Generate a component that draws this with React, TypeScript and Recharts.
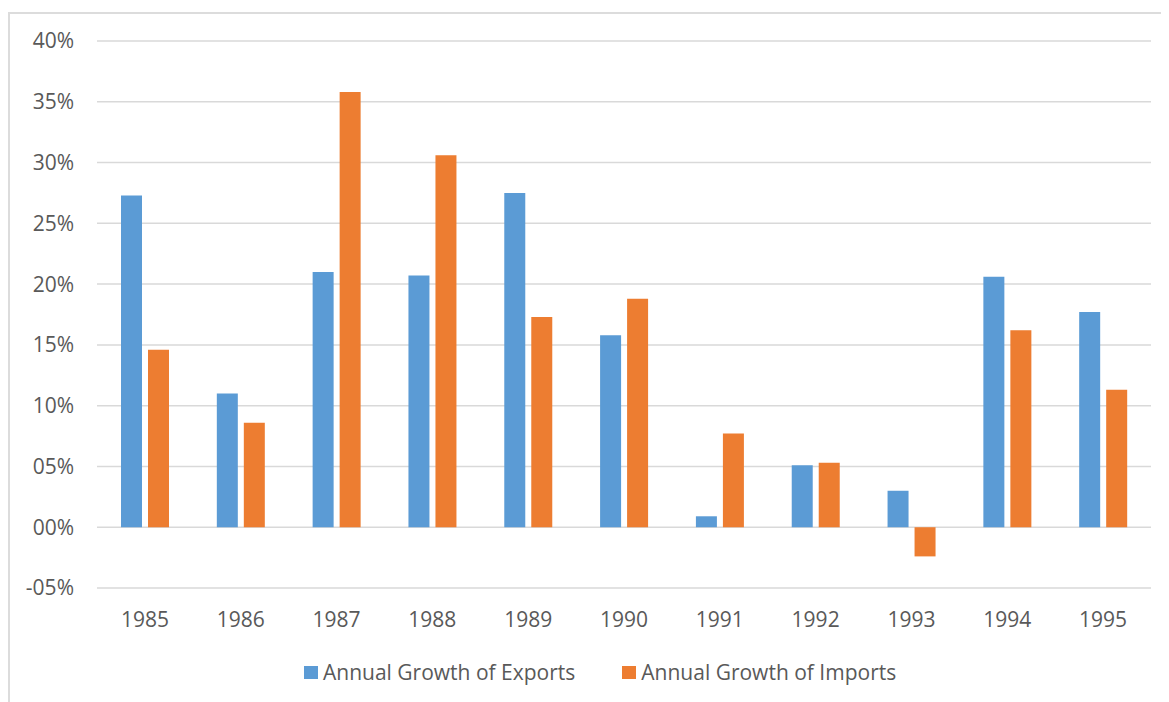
import React from 'react';
import { Bar, BarChart, CartesianGrid, Legend, XAxis, YAxis } from 'recharts';

const years = ['1985', '1986', '1987', '1988', '1989', '1990', '1991', '1992', '1993', '1994', '1995'];
const exportsGrowth = [27.3, 11.0, 21.0, 20.7, 27.5, 15.8, 0.9, 5.1, 3.0, 20.6, 17.7];
const importsGrowth = [14.6, 8.6, 35.8, 30.6, 17.3, 18.8, 7.7, 5.3, -2.4, 16.2, 11.3];
const yTicks = [-5, 0, 5, 10, 15, 20, 25, 30, 35, 40];

const SERIES = [
  { key: 'exports', name: 'Annual Growth of Exports', color: '#5B9BD5' },
  { key: 'imports', name: 'Annual Growth of Imports', color: '#ED7D31' },
];

const FONT = '"Open Sans", sans-serif';
const TEXT = '#595959';

const formatPct = (v: number) => {
  const abs = String(Math.abs(v)).padStart(2, '0');
  return (v < 0 ? '-' : '') + abs + '%';
};

const LegendContent = () => (
  <div style={{ height: 30, display: 'flex', alignItems: 'center', paddingLeft: 296, fontFamily: FONT, fontSize: 21, color: TEXT }}>
    {SERIES.map((s, i) => (
      <div key={s.key} style={{ display: 'flex', alignItems: 'center', marginRight: i === 0 ? 47 : 0 }}>
        <span style={{ width: 14, height: 13, background: s.color, display: 'inline-block', marginRight: 5 }} />
        <span style={{ lineHeight: '30px' }}>{s.name}</span>
      </div>
    ))}
  </div>
);

export default function App() {
  const data = years.map((year, i) => ({ year, exports: exportsGrowth[i], imports: importsGrowth[i] }));

  return (
    <div style={{ position: 'relative', width: 1161, height: 694 }}>
      <div
        style={{
          position: 'absolute',
          top: 4,
          left: 0,
          right: 0,
          bottom: 0,
          borderTop: '2px solid #DCDCDC',
          borderLeft: '2px solid #DCDCDC',
        }}
      />
      <BarChart
        width={1161}
        height={694}
        data={data}
        margin={{ top: 33, right: 18, left: 0, bottom: 15 }}
        barSize={21}
        barGap={6}
        style={{ position: 'absolute', top: 0, left: 0 }}
      >
        <CartesianGrid vertical={false} stroke="#D9D9D9" strokeWidth={1.5} />
        <XAxis
          dataKey="year"
          height={69}
          axisLine={false}
          tickLine={false}
          tickSize={0}
          tickMargin={24}
          tick={{ fill: TEXT, fontSize: 21, fontFamily: FONT }}
          interval={0}
        />
        <YAxis
          width={89}
          domain={[-5, 40]}
          ticks={yTicks}
          axisLine={false}
          tickLine={false}
          tickSize={0}
          tickMargin={23}
          tickFormatter={formatPct}
          tick={{ fill: TEXT, fontSize: 21, fontFamily: FONT }}
          interval={0}
        />
        <Legend verticalAlign="bottom" content={<LegendContent />} />
        {SERIES.map((s) => (
          <Bar key={s.key} dataKey={s.key} name={s.name} fill={s.color} isAnimationActive={false} />
        ))}
      </BarChart>
    </div>
  );
}
